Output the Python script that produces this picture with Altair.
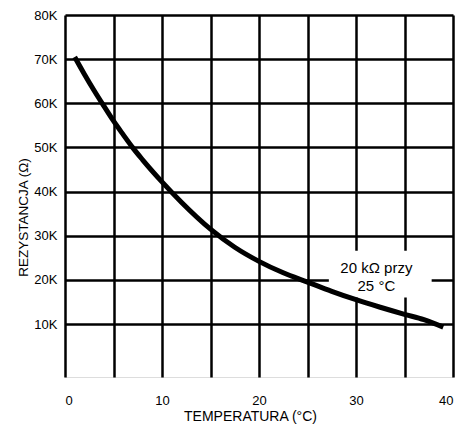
import altair as alt
import pandas as pd

temps = [1, 2, 3, 4, 5, 6, 7, 8, 10, 12, 15, 17.5, 20, 22.5, 25, 27.5, 30, 32.5, 35, 37, 39]
resist = [70500, 66600, 62900, 59400, 56000, 52900, 49900, 47200, 42200, 37600, 31500,
          27400, 24200, 21600, 19500, 17400, 15500, 13800, 12200, 11000, 9300]

x_ticks = [0, 5, 10, 15, 20, 25, 30, 35, 40]
y_ticks = [10000, 20000, 30000, 40000, 50000, 60000, 70000, 80000]

note_lines = ["20 kΩ przy", "25 °C"]
note_x = [32.1, 32.1]
note_y = [22700, 18600]
box = {"x": [27.2], "x2": [37.8], "y": [16000], "y2": [26600]}

FONT = "Liberation Sans"

df = pd.DataFrame({"t": temps, "r": resist})
xs = alt.Scale(domain=[0, 40], nice=False)
ys = alt.Scale(domain=[-2000, 80000], nice=False)

x_axis = alt.Axis(values=x_ticks, labelExpr="datum.value % 10 == 0 ? datum.value : ''",
                  title="TEMPERATURA (°C)", grid=True, gridColor="black", gridWidth=2.5,
                  gridOpacity=1, domain=False, ticks=False, tickSize=0, labelPadding=17,
                  labelFont=FONT, labelFontSize=13, labelColor="black",
                  titleFont=FONT, titleFontSize=14, titleFontWeight="normal", titleColor="black",
                  titleX=185, titleY=43, titleBaseline="alphabetic", titleAnchor="middle")
y_axis = alt.Axis(values=y_ticks, labelExpr="(datum.value/1000) + 'K'",
                  title="REZYSTANCJA (Ω)", grid=True, gridColor="black", gridWidth=2.5,
                  gridOpacity=1, domain=False, ticks=False, tickSize=0, labelPadding=8,
                  labelFont=FONT, labelFontSize=13, labelColor="black",
                  titleFont=FONT, titleFontSize=13.5, titleFontWeight="normal", titleColor="black",
                  titleX=-42, titleY=202, titleAngle=270, titleBaseline="middle", titleAnchor="middle")

base = alt.Chart(df).mark_line(color="black", strokeWidth=5, interpolate="monotone").encode(
    x=alt.X("t:Q", scale=xs, axis=x_axis),
    y=alt.Y("r:Q", scale=ys, axis=y_axis),
)

rect = alt.Chart(pd.DataFrame(box)).mark_rect(color="white", opacity=1).encode(
    x=alt.X("x:Q", scale=xs), x2="x2:Q",
    y=alt.Y("y:Q", scale=ys), y2="y2:Q",
)

text = alt.Chart(pd.DataFrame({"txt": note_lines, "x": note_x, "y": note_y})).mark_text(
    font=FONT, fontSize=15, color="black", baseline="middle", align="center"
).encode(
    x=alt.X("x:Q", scale=xs), y=alt.Y("y:Q", scale=ys), text="txt:N"
)

chart = alt.layer(rect, base, text).properties(
    width=388, height=362,
    autosize=alt.AutoSizeParams(type="none"),
    padding={"left": 57, "top": 7, "right": 3, "bottom": 47},
).configure_view(stroke="black", strokeWidth=2.5).configure(background="white")

chart.save("out.html", embed_options={"renderer": "svg", "actions": False})
